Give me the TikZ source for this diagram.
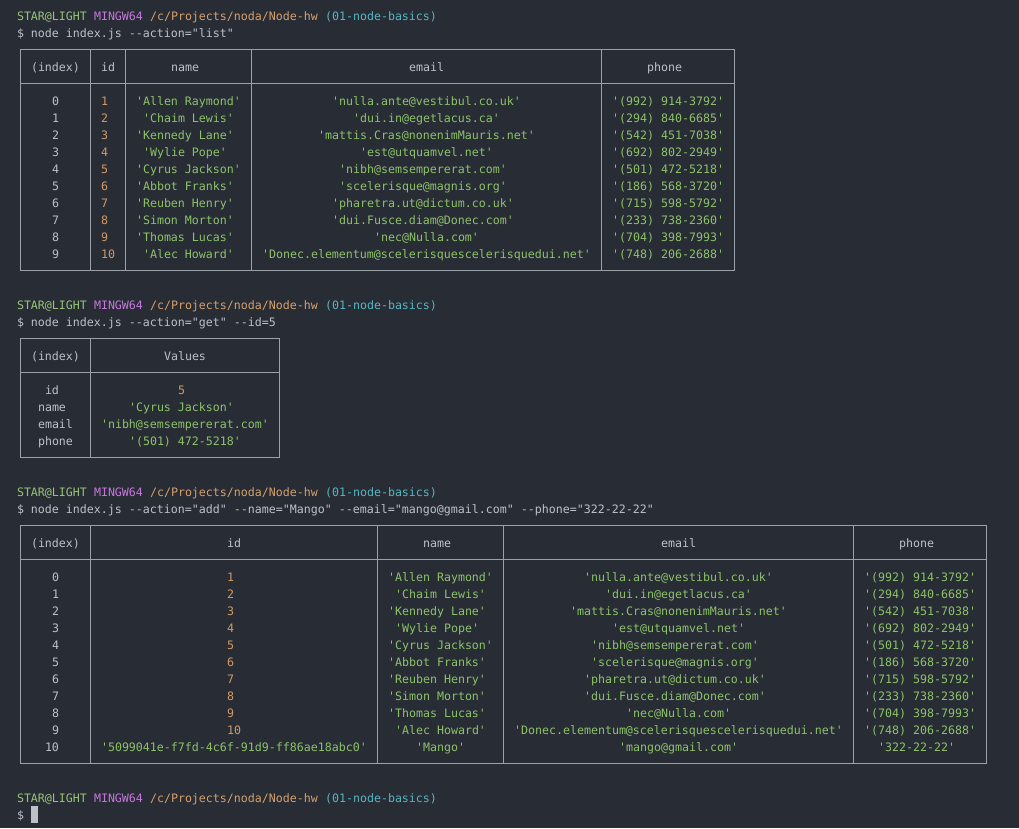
\documentclass[tikz,border=0pt]{standalone}
\usepackage{fontspec}
\setmonofont{DejaVu Sans Mono}
\definecolor{bgc}{HTML}{282C34}
\definecolor{fg}{HTML}{BCC1C9}
\definecolor{str}{HTML}{8DC26A}
\definecolor{num}{HTML}{D19A66}
\definecolor{usr}{HTML}{98C379}
\definecolor{sysc}{HTML}{C678DD}
\definecolor{pathc}{HTML}{D5A06C}
\definecolor{brc}{HTML}{56B6C2}
\definecolor{bdc}{HTML}{9BA1A9}
\newcommand\fsz{\fontsize{11.627pt}{17pt}\selectfont}
\ExplSyntaxOn
\cs_new:Npn \slenof #1 { \str_count:n {#1} }
\ExplSyntaxOff
\newcounter{nn}
\tikzset{
  txt/.style={font=\ttfamily\fsz, inner sep=0pt, outer sep=0pt, anchor=base west},
  bd/.style={draw=bdc, line width=1.1pt},
}
% plain text at column #1, line #2, colour #3
\newcommand\tx[4]{\stepcounter{nn}\node[txt,text=#3] (t\arabic{nn}) at ({17+7*(#1)},{20.5+17*(#2)}) {#4};}
% table cell: line, left border column, width, colour, text
\newcommand\tc[5]{%
  \edef\tclen{\slenof{#5}}%
  \pgfmathtruncatemacro\tcs{#2+2+floor((#3-\tclen)/2)}%
  \stepcounter{nn}%
  \node[txt,text=#4] (t\arabic{nn}) at ({17+7*\tcs},{20.5+17*(#1)}) {#5};}
% grid: top line, separator line, bottom line, last border col, inner border cols
\newcommand\tgrid[5]{%
  \draw[bd] ({17+3.5},{15.5+17*#1}) rectangle ({17+7*(#4+0.5)},{15.5+17*#3});
  \draw[bd] ({17+3.5},{15.5+17*#2}) -- ({17+7*(#4+0.5)},{15.5+17*#2});
  \foreach \b in {#5} {\draw[bd] ({17+7*(\b+0.5)},{15.5+17*#1}) -- ({17+7*(\b+0.5)},{15.5+17*#3});}
}
\newcommand\prompt[1]{\tx{0}{#1}{usr}{STAR@LIGHT}\tx{11}{#1}{sysc}{MINGW64}\tx{19}{#1}{pathc}{/c/Projects/noda/Node-hw}\tx{44}{#1}{brc}{(01-node-basics)}}
\newcommand\rA[6]{\tc{#1}{0}{7}{fg}{#2}\tc{#1}{10}{2}{num}{#3}\tc{#1}{15}{15}{str}{#4}\tc{#1}{33}{47}{str}{#5}\tc{#1}{83}{16}{str}{#6}}
\newcommand\rC[7]{\tc{#1}{0}{7}{fg}{#2}\tc{#1}{10}{38}{#3}{#4}\tc{#1}{51}{15}{str}{#5}\tc{#1}{69}{47}{str}{#6}\tc{#1}{119}{16}{str}{#7}}
\begin{document}
\begin{tikzpicture}[x=1pt,y=-1pt]
\fill[bgc] (0,0) rectangle (1019,828);
\useasboundingbox (0,0) rectangle (1019,828);
% ---- list ----
\prompt{0}
\tx{0}{1}{fg}{\$ node index.js --action="list"}
\tgrid{2}{4}{15}{102}{10,15,33,83}
\tc{3}{0}{7}{fg}{(index)}\tc{3}{10}{2}{fg}{id}\tc{3}{15}{15}{fg}{name}\tc{3}{33}{47}{fg}{email}\tc{3}{83}{16}{fg}{phone}
\rA{5}{0}{1}{'Allen Raymond'}{'nulla.ante@vestibul.co.uk'}{'(992) 914-3792'}
\rA{6}{1}{2}{'Chaim Lewis'}{'dui.in@egetlacus.ca'}{'(294) 840-6685'}
\rA{7}{2}{3}{'Kennedy Lane'}{'mattis.Cras@nonenimMauris.net'}{'(542) 451-7038'}
\rA{8}{3}{4}{'Wylie Pope'}{'est@utquamvel.net'}{'(692) 802-2949'}
\rA{9}{4}{5}{'Cyrus Jackson'}{'nibh@semsempererat.com'}{'(501) 472-5218'}
\rA{10}{5}{6}{'Abbot Franks'}{'scelerisque@magnis.org'}{'(186) 568-3720'}
\rA{11}{6}{7}{'Reuben Henry'}{'pharetra.ut@dictum.co.uk'}{'(715) 598-5792'}
\rA{12}{7}{8}{'Simon Morton'}{'dui.Fusce.diam@Donec.com'}{'(233) 738-2360'}
\rA{13}{8}{9}{'Thomas Lucas'}{'nec@Nulla.com'}{'(704) 398-7993'}
\rA{14}{9}{10}{'Alec Howard'}{'Donec.elementum@scelerisquescelerisquedui.net'}{'(748) 206-2688'}
% ---- get ----
\prompt{17}
\tx{0}{18}{fg}{\$ node index.js --action="get" --id=5}
\tgrid{19}{21}{26}{37}{10}
\tc{20}{0}{7}{fg}{(index)}\tc{20}{10}{24}{fg}{Values}
\tc{22}{0}{7}{fg}{id}\tc{22}{10}{24}{num}{5}
\tc{23}{0}{7}{fg}{name}\tc{23}{10}{24}{str}{'Cyrus Jackson'}
\tc{24}{0}{7}{fg}{email}\tc{24}{10}{24}{str}{'nibh@semsempererat.com'}
\tc{25}{0}{7}{fg}{phone}\tc{25}{10}{24}{str}{'(501) 472-5218'}
% ---- add ----
\prompt{28}
\tx{0}{29}{fg}{\$ node index.js --action="add" --name="Mango" --email="mango@gmail.com" --phone="322-22-22"}
\tgrid{30}{32}{44}{138}{10,51,69,119}
\tc{31}{0}{7}{fg}{(index)}\tc{31}{10}{38}{fg}{id}\tc{31}{51}{15}{fg}{name}\tc{31}{69}{47}{fg}{email}\tc{31}{119}{16}{fg}{phone}
\rC{33}{0}{num}{1}{'Allen Raymond'}{'nulla.ante@vestibul.co.uk'}{'(992) 914-3792'}
\rC{34}{1}{num}{2}{'Chaim Lewis'}{'dui.in@egetlacus.ca'}{'(294) 840-6685'}
\rC{35}{2}{num}{3}{'Kennedy Lane'}{'mattis.Cras@nonenimMauris.net'}{'(542) 451-7038'}
\rC{36}{3}{num}{4}{'Wylie Pope'}{'est@utquamvel.net'}{'(692) 802-2949'}
\rC{37}{4}{num}{5}{'Cyrus Jackson'}{'nibh@semsempererat.com'}{'(501) 472-5218'}
\rC{38}{5}{num}{6}{'Abbot Franks'}{'scelerisque@magnis.org'}{'(186) 568-3720'}
\rC{39}{6}{num}{7}{'Reuben Henry'}{'pharetra.ut@dictum.co.uk'}{'(715) 598-5792'}
\rC{40}{7}{num}{8}{'Simon Morton'}{'dui.Fusce.diam@Donec.com'}{'(233) 738-2360'}
\rC{41}{8}{num}{9}{'Thomas Lucas'}{'nec@Nulla.com'}{'(704) 398-7993'}
\rC{42}{9}{num}{10}{'Alec Howard'}{'Donec.elementum@scelerisquescelerisquedui.net'}{'(748) 206-2688'}
\rC{43}{10}{str}{'5099041e-f7fd-4c6f-91d9-ff86ae18abc0'}{'Mango'}{'mango@gmail.com'}{'322-22-22'}
% ---- final prompt ----
\prompt{46}
\tx{0}{47}{fg}{\$}
\fill[fg] (31,806) rectangle (38,823);
\end{tikzpicture}
\end{document}
